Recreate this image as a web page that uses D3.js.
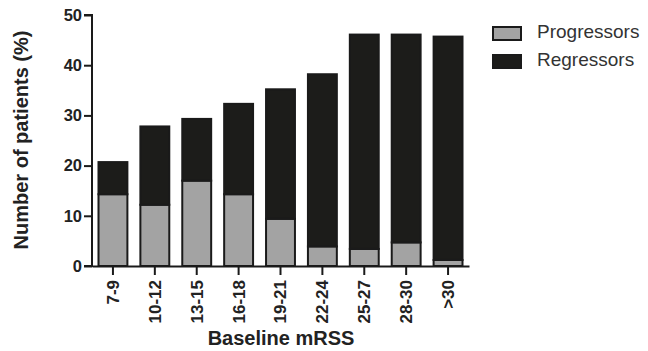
<!DOCTYPE html>
<html>
<head>
<meta charset="utf-8">
<script src="https://cdn.jsdelivr.net/npm/d3@7"></script>
<style>
  body { margin: 0; background: #fff; }
  svg { display: block; }
  text { font-family: "Liberation Sans", Arial, sans-serif; }
</style>
</head>
<body>
<div id="chart"></div>
<script>
// data
var categories = ["7-9", "10-12", "13-15", "16-18", "19-21", "22-24", "25-27", "28-30", ">30"];
var progressors = [14.3, 12.2, 17.0, 14.3, 9.4, 3.9, 3.4, 4.7, 1.2];
var regressors = [6.4, 15.6, 12.3, 18.0, 25.8, 34.3, 42.7, 41.4, 44.5];
var yTicks = [0, 10, 20, 30, 40, 50];
var seriesNames = ["Progressors", "Regressors"];

function init() {
    var w = 648;
    var h = 351;
    var left = 92, right = 469, top = 15, bottom = 266;

    var colors = { Progressors: "#a3a3a3", Regressors: "#1c1c1a" };

    var rows = categories.map(function (c, i) {
        return { cat: c, Progressors: progressors[i], Regressors: regressors[i] };
    });
    var stacked = d3.stack().keys(seriesNames)(rows);

    var x = d3.scaleBand()
        .domain(categories)
        .range([left, right])
        .paddingInner(0.31)
        .paddingOuter(0.155);

    var y = d3.scaleLinear()
        .domain([0, 50])
        .range([bottom, top]);

    var svg = d3.select("#chart")
        .append("svg")
        .attr("width", w)
        .attr("height", h);

    svg.selectAll("g.series")
        .data(stacked)
        .enter()
        .append("g")
        .attr("class", "series")
        .attr("fill", function (d) { return colors[d.key]; })
        .selectAll("rect")
        .data(function (d) { return d; })
        .enter()
        .append("rect")
        .attr("x", function (d) { return x(d.data.cat); })
        .attr("width", x.bandwidth())
        .attr("y", function (d) { return y(d[1]); })
        .attr("height", function (d) { return y(d[0]) - y(d[1]); })
        .attr("stroke", "#1a1a1a")
        .attr("stroke-width", 2);

    // y axis
    var yAxis = svg.append("g")
        .attr("transform", "translate(" + left + ",0)")
        .call(d3.axisLeft(y).tickValues(yTicks).tickSize(8).tickPadding(2));
    yAxis.select(".domain").attr("stroke", "#1a1a1a").attr("stroke-width", 2)
        .attr("d", "M-8," + y(50) + "H0V" + y(0) + "H-8");
    yAxis.selectAll(".tick line").attr("stroke", "#1a1a1a").attr("stroke-width", 2);
    yAxis.selectAll(".tick text")
        .attr("font-size", 16.5).attr("font-weight", "bold").attr("fill", "#222")
        .style("font-family", "'Liberation Sans', Arial, sans-serif");

    // x axis
    var xAxis = svg.append("g")
        .attr("transform", "translate(0," + bottom + ")")
        .call(d3.axisBottom(x).tickSize(9).tickSizeOuter(0).tickPadding(4));
    xAxis.select(".domain").attr("stroke", "#1a1a1a").attr("stroke-width", 2);
    xAxis.selectAll(".tick line").attr("stroke", "#1a1a1a").attr("stroke-width", 2);
    xAxis.selectAll(".tick text")
        .attr("font-size", 17).attr("font-weight", "bold").attr("fill", "#222")
        .style("font-family", "'Liberation Sans', Arial, sans-serif")
        .attr("transform", "rotate(-90)")
        .attr("text-anchor", "end")
        .attr("x", -14)
        .attr("y", 0)
        .attr("dy", "0.35em");

    // axis titles
    svg.append("text")
        .attr("transform", "translate(28,140) rotate(-90)")
        .attr("text-anchor", "middle")
        .attr("font-size", 20).attr("font-weight", "bold").attr("fill", "#222")
        .text("Number of patients (%)");

    svg.append("text")
        .attr("x", 281).attr("y", 345)
        .attr("text-anchor", "middle")
        .attr("font-size", 20).attr("font-weight", "bold").attr("fill", "#222")
        .text("Baseline mRSS");

    // legend
    var legend = svg.selectAll("g.legend")
        .data(seriesNames)
        .enter()
        .append("g")
        .attr("class", "legend")
        .attr("transform", function (d, i) { return "translate(493," + (27 + i * 28) + ")"; });
    legend.append("rect")
        .attr("width", 28).attr("height", 13)
        .attr("fill", function (d) { return colors[d]; })
        .attr("stroke", "#1a1a1a").attr("stroke-width", 2);
    legend.append("text")
        .attr("x", 44).attr("y", 11)
        .attr("font-size", 19).attr("fill", "#333")
        .text(function (d) { return d; });
}

window.onload = init;
</script>
</body>
</html>
